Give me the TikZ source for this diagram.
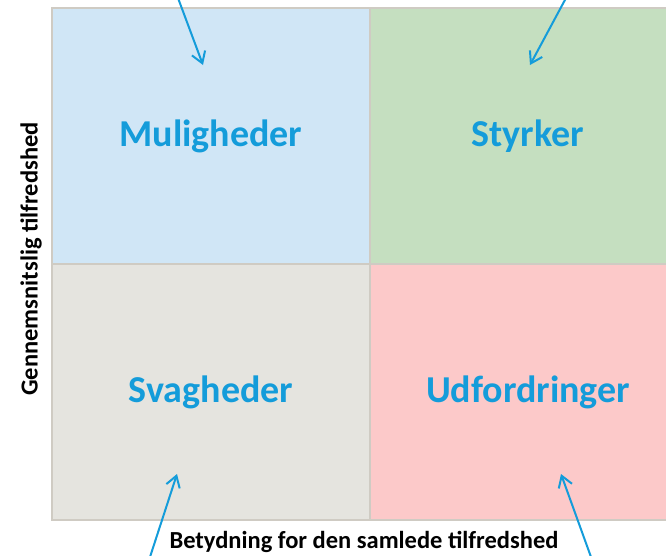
\documentclass[tikz,border=0pt]{standalone}
\usepackage{fontspec}
\setmainfont{Carlito}
\usetikzlibrary{arrows.meta}
\definecolor{qblue}{HTML}{D0E6F6}
\definecolor{qgreen}{HTML}{C5DFC0}
\definecolor{qgray}{HTML}{E5E4DF}
\definecolor{qpink}{HTML}{FCC9C9}
\definecolor{qborder}{HTML}{CFCBC3}
\definecolor{qtext}{HTML}{149CDA}
\tikzset{
  quad/.style={draw=qborder, line width=1.5pt, minimum width=318pt, minimum height=256pt, anchor=north west, inner sep=0pt, outer sep=0pt},
  qlabel/.style={text=qtext, font=\bfseries\fontsize{38}{40}\selectfont},
  axis/.style={font=\bfseries\fontsize{24.5}{26}\selectfont},
  pointer/.style={draw=qtext, line width=2pt, -{Straight Barb[length=11pt,width=14pt,line width=2pt]}}
}
\begin{document}
\begin{tikzpicture}[x=1pt,y=-1pt]
\useasboundingbox (0,0) rectangle (666,555);
\node[quad, fill=qblue] (ml) at (52,8) {};
\node[quad, fill=qgreen] (st) at (370,8) {};
\node[quad, fill=qgray] (sv) at (52,264) {};
\node[quad, fill=qpink] (ud) at (370,264) {};
\node[qlabel] (tml) at (211,136) {Muligheder};
\node[qlabel] (tst) at (528,136) {Styrker};
\node[qlabel] (tsv) at (211,392) {Svagheder};
\node[qlabel] (tud) at (528,392) {Udfordringer};
\node[axis] (xlab) at (364,542) {Betydning for den samlede tilfredshed};
\node[axis, rotate=90] (ylab) at (31,259) {Gennemsnitslig tilfredshed};
\coordinate (a1s) at (178,-2);
\coordinate (a1e) at (203,65);
\coordinate (a2s) at (566,-2);
\coordinate (a2e) at (530,65);
\coordinate (a3s) at (150,557);
\coordinate (a3e) at (177,474);
\coordinate (a4s) at (591,557);
\coordinate (a4e) at (561,474);
\draw[pointer] (a1s) -- (a1e);
\draw[pointer] (a2s) -- (a2e);
\draw[pointer] (a3s) -- (a3e);
\draw[pointer] (a4s) -- (a4e);
\end{tikzpicture}
\end{document}
